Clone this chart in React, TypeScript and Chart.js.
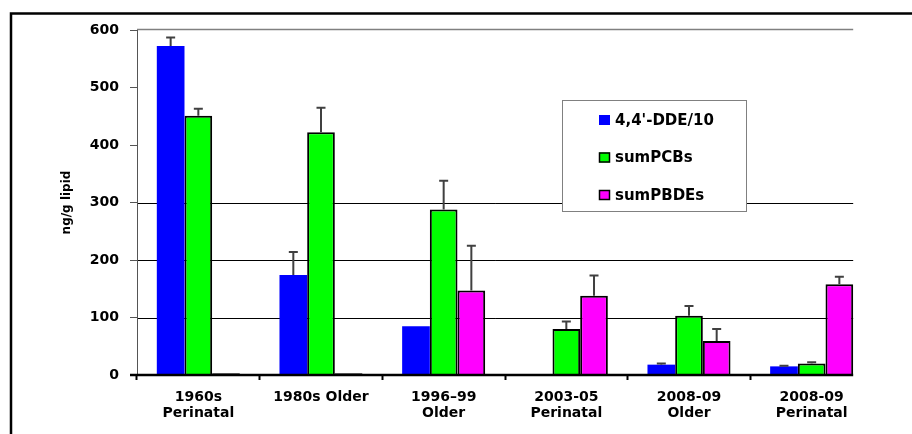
import React, { useEffect, useRef } from "react";
import { Chart, registerables } from "chart.js";

Chart.register(...registerables);

// ---- data ----
const categories: string[][] = [
  ["1960s", "Perinatal"],
  ["1980s Older"],
  ["1996–99", "Older"],
  ["2003-05", "Perinatal"],
  ["2008-09", "Older"],
  ["2008-09", "Perinatal"],
];
const seriesNames = ["4,4'-DDE/10", "sumPCBs", "sumPBDEs"];
const ddeValues = [572, 174, 85, 0, 18, 15];
const ddeErrors = [15, 40, 0, 0, 2, 1];
const pcbValues = [451, 422, 288, 80, 103, 20];
const pcbErrors = [12, 43, 50, 13, 17, 2];
const pbdeValues = [3, 3, 147, 138, 59, 158];
const pbdeErrors = [0, 0, 78, 35, 21, 13];
const yMin = 0;
const yMax = 600;
const yStep = 100;
const gridValues = [100, 200, 300];
const yTitle = "ng/g lipid";

// ---- styles ----
const FONT = "'DejaVu Sans', 'Liberation Sans', sans-serif";
const CAT_PCT = 0.677;
const seriesColors = ["#0000FF", "#00FF00", "#FF00FF"];
const seriesBorders = [0, 2, 2];
const errorSets = [ddeErrors, pcbErrors, pbdeErrors];
const valueSets = [ddeValues, pcbValues, pbdeValues];

const decor = {
  id: "decor",
  beforeDraw(chart: any) {
    const { ctx, chartArea, scales } = chart;
    const x = scales.x;
    const y = scales.y;
    ctx.save();
    ctx.fillStyle = "#ffffff";
    ctx.fillRect(0, 0, chart.width, chart.height);
    // outer frame
    ctx.strokeStyle = "#000";
    ctx.lineWidth = 2.5;
    ctx.beginPath();
    ctx.moveTo(11, chart.height + 5);
    ctx.lineTo(11, 13.5);
    ctx.lineTo(chart.width + 5, 13.5);
    ctx.stroke();

    const catW = (chartArea.right - chartArea.left) / categories.length;
    const endX = x.getPixelForValue(categories.length - 1) + (catW * CAT_PCT) / 2;
    // grid lines
    ctx.strokeStyle = "#000";
    ctx.lineWidth = 1;
    gridValues.forEach((v) => {
      const py = Math.round(y.getPixelForValue(v)) + 0.5;
      ctx.beginPath();
      ctx.moveTo(chartArea.left, py);
      ctx.lineTo(endX, py);
      ctx.stroke();
    });
    // top line
    ctx.strokeStyle = "#808080";
    ctx.lineWidth = 1.5;
    const ty = y.getPixelForValue(yMax) - 0.5;
    ctx.beginPath();
    ctx.moveTo(chartArea.left, ty);
    ctx.lineTo(endX, ty);
    ctx.stroke();
    ctx.restore();
  },
  afterDatasetsDraw(chart: any) {
    const { ctx, chartArea, scales } = chart;
    const x = scales.x;
    const y = scales.y;
    ctx.save();
    // error bars
    ctx.strokeStyle = "#404040";
    ctx.lineWidth = 2;
    errorSets.forEach((errs, di) => {
      const meta = chart.getDatasetMeta(di);
      errs.forEach((e, j) => {
        if (!e) return;
        const bar = meta.data[j];
        const top = y.getPixelForValue(valueSets[di][j] + e);
        ctx.beginPath();
        ctx.moveTo(bar.x, bar.y);
        ctx.lineTo(bar.x, top);
        ctx.moveTo(bar.x - 4.5, top);
        ctx.lineTo(bar.x + 4.5, top);
        ctx.stroke();
      });
    });
    // x axis line
    const catW = (chartArea.right - chartArea.left) / categories.length;
    const endX = x.getPixelForValue(categories.length - 1) + (catW * CAT_PCT) / 2;
    const zy = y.getPixelForValue(0);
    ctx.strokeStyle = "#000";
    ctx.lineWidth = 2.5;
    ctx.beginPath();
    ctx.moveTo(chartArea.left - 7, zy);
    ctx.lineTo(endX, zy);
    ctx.stroke();

    // legend
    const lx = 562.5, ly = 100.5, lw = 184, lh = 111;
    ctx.fillStyle = "#fff";
    ctx.fillRect(lx, ly, lw, lh);
    ctx.strokeStyle = "#808080";
    ctx.lineWidth = 1;
    ctx.strokeRect(lx, ly, lw, lh);
    ctx.font = `bold 15px ${FONT}`;
    ctx.textBaseline = "middle";
    ctx.textAlign = "left";
    seriesNames.forEach((name, i) => {
      const cy = 120 + i * 37.5;
      ctx.fillStyle = seriesColors[i];
      ctx.fillRect(599, cy - 5, 11, 10);
      if (seriesBorders[i]) {
        ctx.strokeStyle = "#000";
        ctx.lineWidth = 1.5;
        ctx.strokeRect(599.5, cy - 4.5, 10, 9);
      }
      ctx.fillStyle = "#000";
      ctx.fillText(name, 615, cy + 1);
    });

    // y title
    ctx.translate(67, (chartArea.top + chartArea.bottom) / 2);
    ctx.rotate(-Math.PI / 2);
    ctx.font = `bold 12px ${FONT}`;
    ctx.textAlign = "center";
    ctx.textBaseline = "middle";
    ctx.fillStyle = "#000";
    ctx.fillText(yTitle, 0, 0);
    ctx.restore();
  },
};

export default function App() {
  const ref = useRef<HTMLCanvasElement | null>(null);
  useEffect(() => {
    if (!ref.current) return;
    const chart = new Chart(ref.current, {
      type: "bar",
      data: {
        labels: categories,
        datasets: valueSets.map((vals, i) => ({
          label: seriesNames[i],
          data: vals,
          backgroundColor: seriesColors[i],
          borderColor: "#000",
          borderWidth: seriesBorders[i],
          categoryPercentage: CAT_PCT,
          barPercentage: 1,
        })),
      },
      options: {
        responsive: false,
        animation: false,
        devicePixelRatio: 1,
        layout: { padding: { top: 30, right: 39, bottom: 0, left: 0 } },
        plugins: { legend: { display: false }, tooltip: { enabled: false } },
        scales: {
          x: {
            type: "category",
            offset: true,
            border: { display: false },
            grid: {
              display: true,
              drawOnChartArea: false,
              drawTicks: true,
              tickLength: 5,
              tickWidth: 2,
              color: "#000",
              tickColor: (c: any) =>
                c.type !== "tick" || c.index >= categories.length ? "rgba(0,0,0,0)" : "#000",
            },
            ticks: {
              font: { family: FONT, size: 14, weight: "bold", lineHeight: 1.15 },
              color: "#000",
              padding: 9,
              maxRotation: 0,
              autoSkip: false,
            },
            afterFit: (s: any) => {
              s.height = 59;
            },
          },
          y: {
            min: yMin,
            max: yMax,
            border: { display: true, color: "#555", width: 1 },
            grid: {
              drawOnChartArea: false,
              drawTicks: true,
              tickLength: 7,
              tickColor: "#555",
              color: "#555",
            },
            ticks: {
              stepSize: yStep,
              font: { family: FONT, size: 14, weight: "bold" },
              color: "#000",
              padding: 11,
            },
            afterFit: (s: any) => {
              s.width = 137;
            },
          },
        },
      },
      plugins: [decor],
    });
    return () => chart.destroy();
  }, []);
  return (
    <div style={{ position: "absolute", left: 0, top: 0, width: 912, height: 434 }}>
      <canvas ref={ref} width={912} height={434} />
    </div>
  );
}
